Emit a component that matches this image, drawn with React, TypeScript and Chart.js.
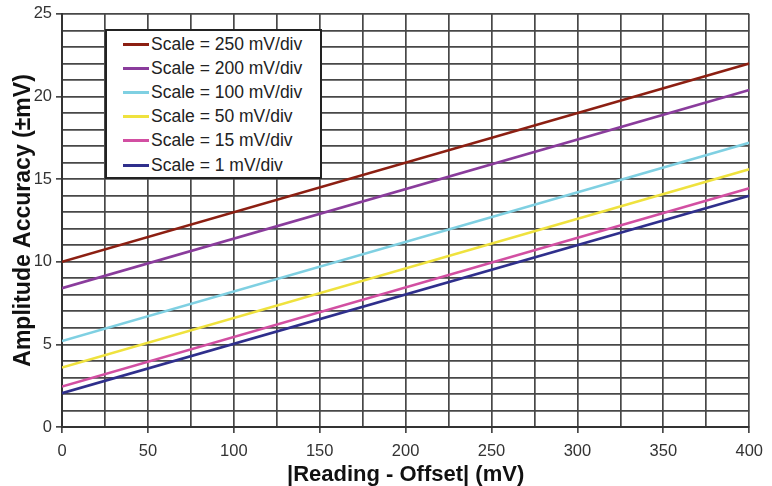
import React, { useEffect, useRef } from "react";
import { Chart, registerables } from "chart.js";

Chart.register(...registerables);

const readingOffset = [0, 400];
const seriesLabels = [
  "Scale = 250 mV/div",
  "Scale = 200 mV/div",
  "Scale = 100 mV/div",
  "Scale = 50 mV/div",
  "Scale = 15 mV/div",
  "Scale = 1 mV/div",
];
const acc250 = [10.0, 22.0];
const acc200 = [8.4, 20.4];
const acc100 = [5.2, 17.2];
const acc50 = [3.6, 15.6];
const acc15 = [2.45, 14.45];
const acc1 = [2.05, 14.0];
const seriesValues = [acc250, acc200, acc100, acc50, acc15, acc1];
const seriesColors = ["#8c1f12", "#8a3c9c", "#7fd0e2", "#efe23e", "#d24fa2", "#2f2f8c"];

const xTitle = "|Reading - Offset| (mV)";
const yTitle = "Amplitude Accuracy (±mV)";

export default function App() {
  const canvasRef = useRef<HTMLCanvasElement | null>(null);

  useEffect(() => {
    document.body.style.margin = "0";
    const canvas = canvasRef.current;
    if (!canvas) return;
    const gridColor = "#484848";
    const chart = new Chart(canvas, {
      type: "line",
      data: {
        datasets: seriesValues.map((vals, i) => ({
          label: seriesLabels[i],
          data: vals.map((v, j) => ({ x: readingOffset[j], y: v })),
          borderColor: seriesColors[i],
          backgroundColor: seriesColors[i],
          borderWidth: 2.6,
          pointRadius: 0,
          tension: 0,
        })),
      },
      options: {
        animation: false,
        responsive: false,
        layout: { padding: { top: 11, right: 22, left: 0, bottom: 0 } },
        plugins: { legend: { display: false }, tooltip: { enabled: false } },
        scales: {
          x: {
            type: "linear",
            min: 0,
            max: 400,
            afterFit: (s: any) => {
              s.height = 59;
            },
            ticks: {
              stepSize: 25,
              autoSkip: false,
              maxRotation: 0,
              padding: 9,
              color: "#333",
              font: { family: "Liberation Sans, Arial, sans-serif", size: 16.5 },
              callback: (v: any) => (Number(v) % 50 === 0 ? String(v) : ""),
            },
            grid: {
              color: gridColor,
              lineWidth: 1.7,
              tickLength: 6,
              tickColor: (ctx: any) =>
                ctx.tick && ctx.tick.value % 50 === 0 ? gridColor : "rgba(0,0,0,0)",
            },
            border: { color: "#333", width: 2 },
            title: {
              display: true,
              text: xTitle,
              color: "#111",
              padding: { top: 0, bottom: 0 },
              font: { family: "Liberation Sans, Arial, sans-serif", size: 22, weight: "bold", lineHeight: 1 },
            },
          },
          y: {
            type: "linear",
            min: 0,
            max: 25,
            afterFit: (s: any) => {
              s.width = 62;
            },
            ticks: {
              stepSize: 1,
              autoSkip: false,
              padding: 4,
              color: "#333",
              font: { family: "Liberation Sans, Arial, sans-serif", size: 16.5 },
              callback: (v: any) => (Number(v) % 5 === 0 ? String(v) : ""),
            },
            grid: {
              color: gridColor,
              lineWidth: 1.7,
              tickLength: 6,
              tickColor: (ctx: any) =>
                ctx.tick && ctx.tick.value % 5 === 0 ? gridColor : "rgba(0,0,0,0)",
            },
            border: { color: "#333", width: 2 },
            title: {
              display: true,
              text: yTitle,
              color: "#111",
              padding: { top: 12, bottom: 0 },
              font: { family: "Liberation Sans, Arial, sans-serif", size: 23, weight: "bold", lineHeight: 1 },
            },
          },
        },
      },
    });
    return () => chart.destroy();
  }, []);

  return (
    <div style={{ position: "relative", width: 772, height: 486, background: "#fff" }}>
      <canvas ref={canvasRef} width={772} height={486} style={{ display: "block" }} />
      <div
        style={{
          position: "absolute",
          left: 105,
          top: 29,
          width: 213,
          height: 146,
          border: "2px solid #222",
          background: "#fff",
          fontFamily: "Liberation Sans, Arial, sans-serif",
          fontSize: 17.5,
          color: "#222",
          boxSizing: "content-box",
        }}
      >
        {seriesLabels.map((label, i) => (
          <div
            key={label}
            style={{
              position: "absolute",
              left: 16,
              top: 1 + i * 24.2,
              height: 24,
              display: "flex",
              alignItems: "center",
              whiteSpace: "nowrap",
            }}
          >
            <span
              style={{
                display: "inline-block",
                width: 26,
                height: 3,
                background: seriesColors[i],
                marginRight: 2,
              }}
            />
            <span>{label}</span>
          </div>
        ))}
      </div>
    </div>
  );
}
